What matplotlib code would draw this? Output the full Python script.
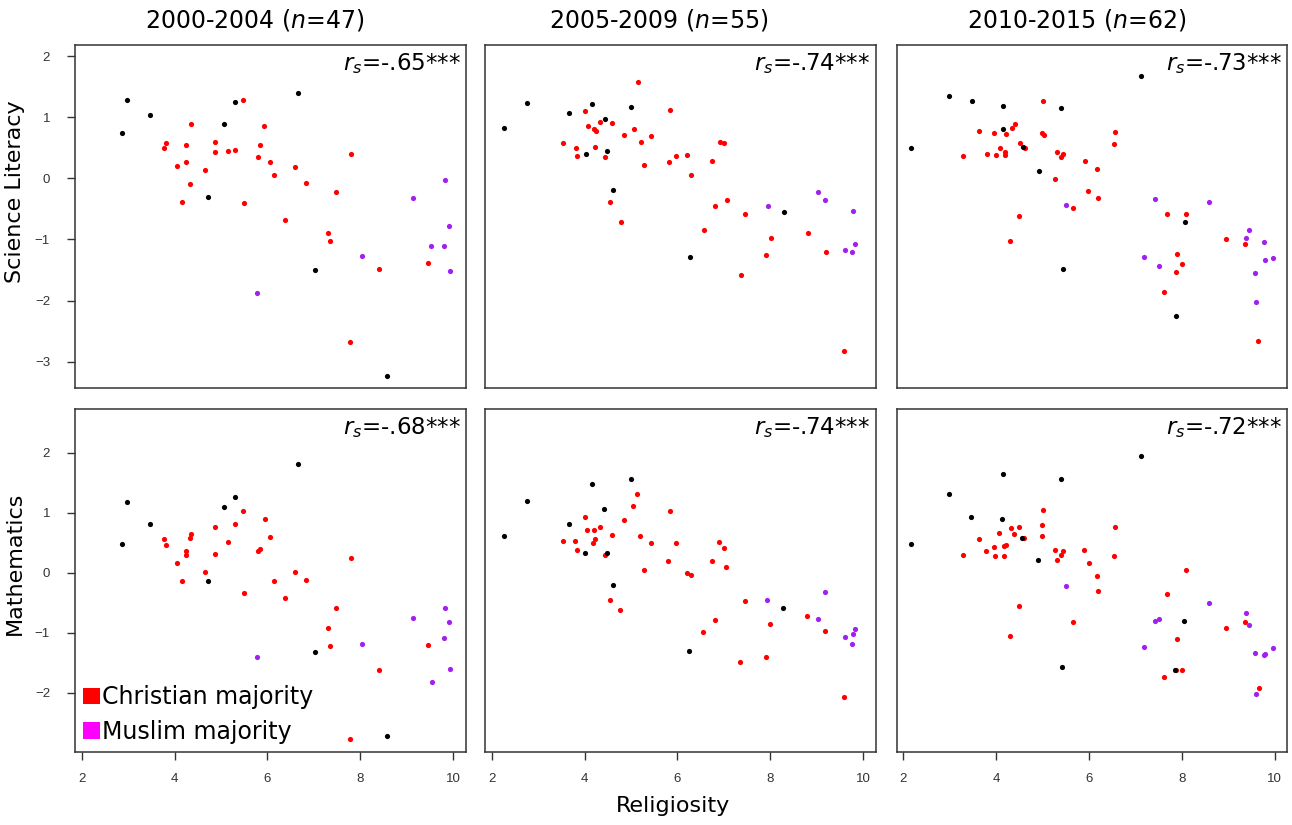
import matplotlib
matplotlib.use("Agg")
import matplotlib.pyplot as plt
from matplotlib.patches import Patch

# ---------------- data ----------------
periods = ["2000-2004", "2005-2009", "2010-2015"]
n_counts = [47, 55, 62]
subjects = ["Science Literacy", "Mathematics"]
rs_sci = ["-.65***", "-.74***", "-.73***"]
rs_math = ["-.68***", "-.74***", "-.72***"]
x_ticks = [2, 4, 6, 8, 10]
y_ticks_sci = [-3, -2, -1, 0, 1, 2]
y_ticks_math = [-2, -1, 0, 1, 2]
legend_labels = ["Christian majority", "Muslim majority"]

# Science 2000-2004
sci1_other_x = [2.97, 3.48, 2.86, 5.31, 6.66, 5.07, 4.73, 7.02, 8.58]
sci1_other_y = [1.28, 1.04, 0.74, 1.24, 1.40, 0.88, -0.31, -1.50, -3.24]
sci1_christ_x = [5.47, 4.35, 5.93, 3.82, 3.77, 4.25, 4.87, 4.87, 5.16, 5.31, 5.85, 5.80, 6.06, 4.25, 4.06,
                 4.65, 6.14, 6.59, 4.33, 4.15, 5.50, 6.83, 7.81, 7.47, 6.37, 7.30, 7.35, 8.41, 9.46, 7.79]
sci1_christ_y = [1.28, 0.88, 0.86, 0.58, 0.50, 0.55, 0.60, 0.43, 0.44, 0.47, 0.55, 0.34, 0.27, 0.27, 0.20,
                 0.13, 0.06, 0.18, -0.10, -0.38, -0.40, -0.07, 0.40, -0.23, -0.68, -0.90, -1.02, -1.48, -1.38, -2.68]
sci1_muslim_x = [9.83, 9.13, 9.91, 9.53, 9.81, 9.94, 8.03, 5.77]
sci1_muslim_y = [-0.03, -0.33, -0.78, -1.10, -1.11, -1.51, -1.27, -1.87]

# Science 2005-2009
sci2_other_x = [2.27, 2.76, 3.67, 4.17, 5.00, 4.43, 4.03, 4.48, 4.61, 8.29, 6.27]
sci2_other_y = [0.82, 1.23, 1.07, 1.22, 1.16, 0.97, 0.40, 0.44, -0.19, -0.55, -1.28]
sci2_christ_x = [5.15, 5.85, 4.01, 4.34, 4.60, 4.07, 4.20, 4.24, 5.06, 4.86, 5.44, 5.21, 3.54, 3.81, 4.22,
                 3.84, 4.44, 6.91, 7.01, 5.98, 6.21, 5.81, 5.27, 6.75, 6.30, 4.55, 4.78, 6.82, 7.06, 7.46,
                 6.57, 8.81, 8.01, 7.91, 9.20, 7.36, 9.59]
sci2_christ_y = [1.58, 1.11, 1.10, 0.92, 0.91, 0.86, 0.80, 0.77, 0.80, 0.70, 0.69, 0.60, 0.57, 0.49, 0.51,
                 0.37, 0.34, 0.60, 0.57, 0.37, 0.38, 0.26, 0.21, 0.28, 0.05, -0.39, -0.72, -0.45, -0.35, -0.59,
                 -0.85, -0.89, -0.98, -1.25, -1.20, -1.58, -2.83]
sci2_muslim_x = [9.03, 9.18, 7.95, 9.79, 9.83, 9.62, 9.77]
sci2_muslim_y = [-0.23, -0.36, -0.46, -0.54, -1.07, -1.18, -1.20]

# Science 2010-2015
sci3_other_x = [2.17, 2.99, 3.47, 4.15, 5.40, 7.12, 4.14, 4.57, 4.91, 8.06, 5.43, 7.87]
sci3_other_y = [0.50, 1.35, 1.27, 1.18, 1.15, 1.67, 0.80, 0.51, 0.12, -0.72, -1.48, -2.25]
sci3_christ_x = [5.00, 3.63, 3.96, 4.20, 4.33, 4.40, 3.29, 3.79, 3.99, 4.07, 4.18, 4.18, 4.51, 4.61, 4.99,
                 5.02, 5.30, 5.44, 5.40, 5.27, 5.91, 6.16, 6.55, 6.54, 5.98, 6.19, 5.66, 4.50, 4.30, 7.68,
                 8.08, 8.94, 9.36, 7.89, 8.00, 7.87, 7.61, 9.64]
sci3_christ_y = [1.26, 0.78, 0.74, 0.73, 0.83, 0.88, 0.37, 0.39, 0.38, 0.50, 0.43, 0.38, 0.57, 0.50, 0.74,
                 0.70, 0.43, 0.40, 0.34, -0.01, 0.29, 0.15, 0.76, 0.56, -0.21, -0.32, -0.48, -0.61, -1.02, -0.58,
                 -0.58, -0.99, -1.07, -1.24, -1.40, -1.54, -1.86, -2.66]
sci3_muslim_x = [5.50, 7.43, 8.58, 9.45, 9.37, 9.77, 9.78, 9.96, 7.19, 7.50, 9.58, 9.60]
sci3_muslim_y = [-0.43, -0.34, -0.39, -0.85, -0.98, -1.04, -1.33, -1.31, -1.29, -1.44, -1.55, -2.02]

# Mathematics 2000-2004
math1_other_x = [2.97, 3.48, 2.86, 5.31, 5.07, 6.66, 4.73, 7.02, 8.58]
math1_other_y = [1.18, 0.82, 0.48, 1.26, 1.09, 1.81, -0.13, -1.32, -2.72]
math1_christ_x = [5.47, 5.94, 4.88, 5.31, 4.35, 4.33, 3.77, 3.82, 4.25, 4.25, 5.16, 6.06, 4.88, 5.80, 5.85,
                  4.06, 4.65, 4.15, 6.14, 6.59, 6.84, 5.50, 6.37, 7.81, 7.48, 7.30, 7.35, 8.41, 9.46, 7.79]
math1_christ_y = [1.03, 0.90, 0.77, 0.81, 0.65, 0.58, 0.57, 0.47, 0.37, 0.29, 0.51, 0.60, 0.32, 0.37, 0.39,
                  0.16, 0.02, -0.14, -0.14, 0.02, -0.12, -0.34, -0.42, 0.24, -0.59, -0.93, -1.23, -1.62, -1.21, -2.78]
math1_muslim_x = [9.83, 9.13, 9.91, 9.81, 8.03, 9.94, 9.54, 5.77]
math1_muslim_y = [-0.59, -0.76, -0.83, -1.09, -1.19, -1.60, -1.82, -1.41]

# Mathematics 2005-2009
math2_other_x = [2.27, 2.75, 3.67, 4.17, 4.99, 4.42, 4.02, 4.48, 4.61, 8.28, 6.26]
math2_other_y = [0.62, 1.19, 0.81, 1.48, 1.56, 1.06, 0.33, 0.33, -0.20, -0.59, -1.31]
math2_christ_x = [5.14, 5.05, 5.84, 4.00, 4.85, 4.33, 4.06, 4.21, 4.59, 4.23, 4.19, 3.53, 3.80, 3.83, 4.43,
                  5.20, 5.43, 5.98, 6.90, 7.00, 5.80, 6.74, 7.05, 5.27, 6.21, 6.29, 4.54, 4.77, 7.45, 6.81,
                  6.56, 8.80, 8.00, 9.19, 7.35, 7.91, 9.59]
math2_christ_y = [1.32, 1.11, 1.03, 0.93, 0.88, 0.76, 0.72, 0.72, 0.63, 0.56, 0.50, 0.53, 0.53, 0.38, 0.29,
                  0.61, 0.50, 0.50, 0.51, 0.41, 0.20, 0.19, 0.10, 0.05, -0.01, -0.03, -0.46, -0.62, -0.47, -0.79,
                  -0.99, -0.72, -0.86, -0.98, -1.49, -1.41, -2.08]
math2_muslim_x = [9.17, 7.94, 9.03, 9.82, 9.79, 9.61, 9.76]
math2_muslim_y = [-0.33, -0.45, -0.77, -0.94, -1.02, -1.08, -1.19]

# Mathematics 2010-2015
math3_other_x = [2.16, 2.98, 3.45, 4.14, 5.40, 7.12, 4.13, 4.56, 4.90, 8.05, 5.42, 7.86]
math3_other_y = [0.48, 1.31, 0.93, 1.64, 1.57, 1.94, 0.89, 0.58, 0.22, -0.80, -1.58, -1.62]
math3_christ_x = [5.01, 3.62, 3.95, 4.17, 4.20, 4.06, 4.32, 4.39, 4.50, 3.28, 3.78, 3.98, 4.17, 4.60, 4.98,
                  4.99, 5.27, 5.43, 5.39, 5.30, 5.90, 5.99, 6.16, 6.19, 6.55, 6.54, 5.66, 4.49, 4.30, 8.08,
                  7.68, 8.94, 9.36, 7.89, 8.00, 7.87, 7.61, 9.65]
math3_christ_y = [1.05, 0.56, 0.43, 0.45, 0.46, 0.67, 0.75, 0.65, 0.76, 0.30, 0.37, 0.28, 0.28, 0.58, 0.80,
                  0.61, 0.38, 0.37, 0.29, 0.22, 0.38, 0.16, -0.05, -0.31, 0.77, 0.28, -0.82, -0.56, -1.05, 0.04,
                  -0.35, -0.92, -0.82, -1.11, -1.62, -1.63, -1.74, -1.92]
math3_muslim_x = [5.50, 7.42, 7.50, 8.58, 9.37, 9.45, 9.96, 9.78, 9.76, 9.58, 7.19, 9.60]
math3_muslim_y = [-0.23, -0.80, -0.77, -0.51, -0.67, -0.87, -1.26, -1.36, -1.37, -1.34, -1.24, -2.03]

panels = [
    [(sci1_christ_x, sci1_christ_y, sci1_muslim_x, sci1_muslim_y, sci1_other_x, sci1_other_y),
     (sci2_christ_x, sci2_christ_y, sci2_muslim_x, sci2_muslim_y, sci2_other_x, sci2_other_y),
     (sci3_christ_x, sci3_christ_y, sci3_muslim_x, sci3_muslim_y, sci3_other_x, sci3_other_y)],
    [(math1_christ_x, math1_christ_y, math1_muslim_x, math1_muslim_y, math1_other_x, math1_other_y),
     (math2_christ_x, math2_christ_y, math2_muslim_x, math2_muslim_y, math2_other_x, math2_other_y),
     (math3_christ_x, math3_christ_y, math3_muslim_x, math3_muslim_y, math3_other_x, math3_other_y)],
]
rs_labels = [rs_sci, rs_math]

# ---------------- style ----------------
plt.rcParams["font.family"] = ["DejaVu Sans"]
plt.rcParams["mathtext.fontset"] = "dejavusans"

C_CHRIST = "#FF0000"
C_MUSLIM = "#A020F0"
C_OTHER = "#000000"
LEG_MUSLIM = "#FF00FF"
SPINE = "#333333"

W, H = 1292, 825
fig = plt.figure(figsize=(W / 100, H / 100), dpi=100)

col_left_px = [75, 485, 896.7]
ax_w_px = 390.6
row_top_px = [45, 409]
ax_h_px = 343
xlim = (1.855, 10.27)
ylims = [(-3.43, 2.18), (-2.99, 2.73)]
y_ticks = [y_ticks_sci, y_ticks_math]

for r in range(2):
    for c in range(3):
        left = col_left_px[c] / W
        bottom = 1 - (row_top_px[r] + ax_h_px) / H
        ax = fig.add_axes([left, bottom, ax_w_px / W, ax_h_px / H])
        cx, cy, mx, my, ox, oy = panels[r][c]
        ax.scatter(cx, cy, s=14, color=C_CHRIST, linewidths=0, zorder=3)
        ax.scatter(mx, my, s=14, color=C_MUSLIM, linewidths=0, zorder=3)
        ax.scatter(ox, oy, s=14, color=C_OTHER, linewidths=0, zorder=4)
        ax.set_xlim(*xlim)
        ax.set_ylim(*ylims[r])
        for sp in ax.spines.values():
            sp.set_color(SPINE)
            sp.set_linewidth(1.1)
        ax.tick_params(length=6, width=1.0, color=SPINE, labelsize=9.5,
                       labelcolor="#333333")
        if r == 1:
            ax.set_xticks(x_ticks)
            ax.set_xticklabels([str(t) for t in x_ticks], fontfamily="Liberation Sans")
            ax.tick_params(axis="x", pad=9)
        else:
            ax.set_xticks([])
        if c == 0:
            ax.set_yticks(y_ticks[r])
            ax.set_yticklabels([("\u2212" + str(-t)) if t < 0 else str(t) for t in y_ticks[r]],
                               fontfamily="Liberation Sans")
            ax.tick_params(axis="y", pad=12)
        else:
            ax.set_yticks([])
        ax.text(0.987, 0.927, r"$r_s$=" + rs_labels[r][c], transform=ax.transAxes,
                ha="right", va="baseline", fontsize=16.5)
        if r == 1 and c == 0:
            handles = [Patch(facecolor=C_CHRIST, edgecolor="none"),
                       Patch(facecolor=LEG_MUSLIM, edgecolor="none")]
            ax.legend(handles, legend_labels, loc="lower left", frameon=False,
                      fontsize=17, handlelength=0.7, handleheight=0.7,
                      handletextpad=0.1, borderaxespad=0.0, borderpad=0.35,
                      labelspacing=0.45)

title_cx_px = [254.5, 659, 1077]
for c in range(3):
    fig.text(title_cx_px[c] / W, 1 - 20 / H,
             periods[c] + " ($n$=" + str(n_counts[c]) + ")",
             ha="center", va="center", fontsize=17)

fig.text(15 / W, 1 - 192 / H, subjects[0], rotation=90, ha="center", va="center", fontsize=16)
fig.text(15 / W, 1 - 563 / H, subjects[1], rotation=90, ha="center", va="center", fontsize=16)
fig.text(673 / W, 1 - 806 / H, "Religiosity", ha="center", va="center", fontsize=16)

fig.savefig("out.png", dpi=100)
